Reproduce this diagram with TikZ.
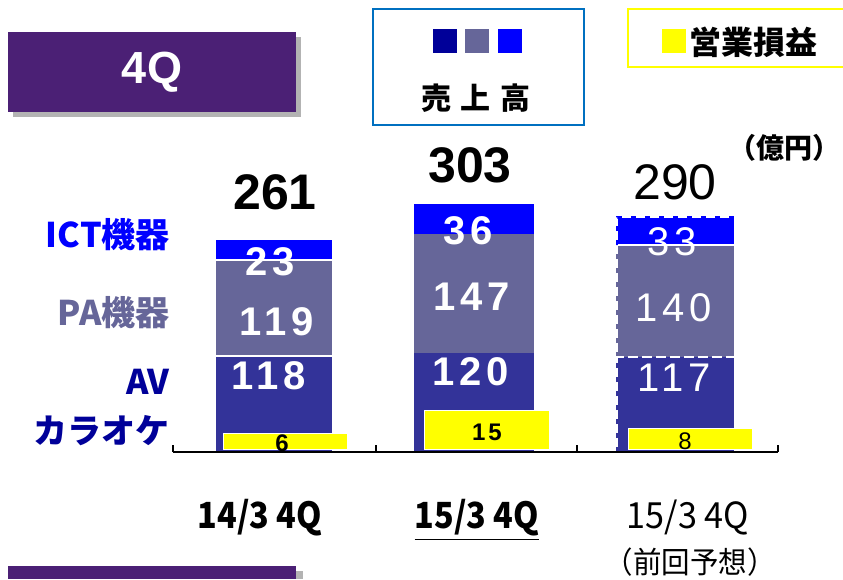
\documentclass[tikz,border=0pt]{standalone}
\usepackage{fontspec}
\setmainfont{Liberation Sans}
\newfontfamily\jpfont{Noto Sans CJK JP}
\newfontfamily\numfont[LetterSpace=12]{Liberation Sans}
\newfontfamily\narrowfont[FakeStretch=0.9]{Noto Sans CJK JP}
\newfontfamily\planfont[FakeStretch=0.95]{Noto Sans CJK JP}
\usepackage{xcolor}
\definecolor{titlepurple}{HTML}{4B2075}
\definecolor{shadowgray}{HTML}{B3B3B3}
\definecolor{legendblue}{HTML}{0070C0}
\definecolor{avcol}{HTML}{333399}
\definecolor{pacol}{HTML}{666699}
\definecolor{ictcol}{HTML}{0000FF}
\definecolor{navy}{HTML}{000099}
\definecolor{opyellow}{HTML}{FFFF00}

\begin{document}
\begin{tikzpicture}[x=1pt,y=-1pt]
    \tikzset{segnum/.style = {text=white, inner sep=0pt, font=\numfont\bfseries\fontsize{40}{40}\selectfont}}
    \tikzset{plannum/.style = {text=white, inner sep=0pt, font=\numfont\fontsize{40}{40}\selectfont}}
    \tikzset{opbar/.style = {fill=opyellow, draw=white, line width=0.8pt}}
    \tikzset{opnum/.style = {inner sep=0pt, font=\numfont\bfseries\fontsize{24}{24}\selectfont}}
    \tikzset{total/.style = {inner sep=0pt, font=\fontsize{50}{50}\selectfont}}
    \tikzset{seglabel/.style = {anchor=east, inner sep=0pt, font=\jpfont\bfseries\fontsize{34}{34}\selectfont}}
    \tikzset{period/.style = {inner sep=0pt, font=\planfont\fontsize{36}{36}\selectfont}}
    \tikzset{legsq/.style = {inner sep=0pt, minimum size=24pt}}
    \useasboundingbox (0,0) rectangle (843,579);

    % title boxes
    \fill[shadowgray] (13,37) rectangle (301,117);
    \node[fill=titlepurple, minimum width=288pt, minimum height=80pt, inner sep=0pt,
          text=white, font=\bfseries\fontsize{45}{45}\selectfont] (title) at (152,72) {4Q};
    \fill[shadowgray] (13,571) rectangle (303,579);
    \fill[titlepurple] (8,566) rectangle (296,579);

    % legends
    \node[draw=legendblue, line width=2pt, minimum width=211pt, minimum height=116pt] (salesbox) at (478,67) {};
    \node[legsq, fill=navy] (sqav) at (445,41) {};
    \node[legsq, fill=pacol] (sqpa) at (477,41) {};
    \node[legsq, fill=ictcol] (sqict) at (510,41) {};
    \node[inner sep=0pt, font=\jpfont\bfseries\fontsize{30}{30}\selectfont] (sales) at (476,98) {売\,\,上\,\,高};
    \draw[opyellow, line width=2pt] (850,9) -- (628,9) -- (628,67) -- (850,67);
    \node[legsq, fill=opyellow] (sqop) at (674,41) {};
    \node[anchor=west, inner sep=0pt, font=\jpfont\bfseries\fontsize{32}{32}\selectfont] (oplabel) at (689,42) {営業損益};
    \node[anchor=east, inner sep=0pt, font=\jpfont\bfseries\fontsize{28}{28}\selectfont] (unit) at (841,148) {（億円）};

    % bar 14/3 4Q
    \fill[avcol] (216,357) rectangle (332,452);
    \fill[pacol] (216,261) rectangle (332,355);
    \fill[ictcol] (216,240) rectangle (332,259);
    \node[opbar, minimum width=124pt, minimum height=16pt, inner sep=0pt] (op1) at (285,441) {};
    \node[opnum] (op1num) at (282,443) {6};
    \node[segnum] (av1) at (269,376) {118};
    \node[segnum] (pa1) at (277,322) {119};
    \node[segnum] (ict1) at (270,262) {23};
    \node[total, font=\bfseries\fontsize{50}{50}\selectfont] (sum1) at (275,192) {261};

    % bar 15/3 4Q
    \fill[avcol] (414,353) rectangle (534,452);
    \fill[pacol] (414,234) rectangle (534,353);
    \fill[ictcol] (414,204) rectangle (534,234);
    \node[opbar, minimum width=125pt, minimum height=39pt, inner sep=0pt] (op2) at (487,430) {};
    \node[opnum] (op2num) at (487,432) {15};
    \node[segnum] (av2) at (471,372) {120};
    \node[segnum] (pa2) at (472,297) {147};
    \node[segnum] (ict2) at (468,231) {36};
    \node[total, font=\bfseries\fontsize{50}{50}\selectfont] (sum2) at (470,165) {303};

    % bar 15/3 4Q plan
    \fill[avcol] (618,357) rectangle (734,452);
    \fill[pacol] (618,245) rectangle (734,357);
    \fill[ictcol] (618,218) rectangle (734,245);
    \draw[avcol, line width=3pt, dash pattern=on 5pt off 9pt] (617,452) -- (617,357);
    \draw[pacol, line width=3pt, dash pattern=on 5pt off 9pt] (617,357) -- (617,245);
    \draw[ictcol, line width=3pt, dash pattern=on 5pt off 9pt] (617,245) -- (617,217) -- (734,217);
    \draw[white, line width=2pt] (618,244.5) -- (734,244.5);
    \draw[white, line width=2pt, dash pattern=on 10pt off 4pt] (614,356.5) -- (734,356.5);
    \node[opbar, minimum width=124pt, minimum height=21pt, inner sep=0pt] (op3) at (690,438.5) {};
    \node[opnum, font=\numfont\fontsize{24}{24}\selectfont] (op3num) at (685,441) {8};
    \node[plannum] (av3) at (674,378) {117};
    \node[plannum] (pa3) at (674,308) {140};
    \node[plannum] (ict3) at (672,242) {33};
    \node[total] (sum3) at (675,182) {290};

    % axis
    \draw[line width=1.5pt] (173,452) -- (778,452);
    \foreach \tx in {173,376,577,778}
        \draw[line width=1.5pt] (\tx,452) -- (\tx,445);

    % segment labels
    \node[seglabel, text=ictcol] (lict) at (170,235) {ICT機器};
    \node[seglabel, text=pacol] (lpa) at (170,313) {PA機器};
    \node[seglabel, text=navy] (lav) at (170,382) {AV};
    \node[seglabel, text=navy] (lkar) at (170,431) {カラオケ};

    % periods
    \node[period, font=\narrowfont\bfseries\fontsize{36}{36}\selectfont] (p1) at (260,518) {14/3 4Q};
    \node[period, font=\narrowfont\bfseries\fontsize{36}{36}\selectfont] (p2) at (477,518) {15/3 4Q};
    \draw[line width=1.5pt] ([yshift=-3pt]p2.south west) -- ([yshift=-3pt]p2.south east);
    \node[period] (p3) at (688,518) {15/3 4Q};
    \node[period, font=\planfont\fontsize{30}{30}\selectfont] (p3b) at (690,562) {（前回予想）};
\end{tikzpicture}
\end{document}
